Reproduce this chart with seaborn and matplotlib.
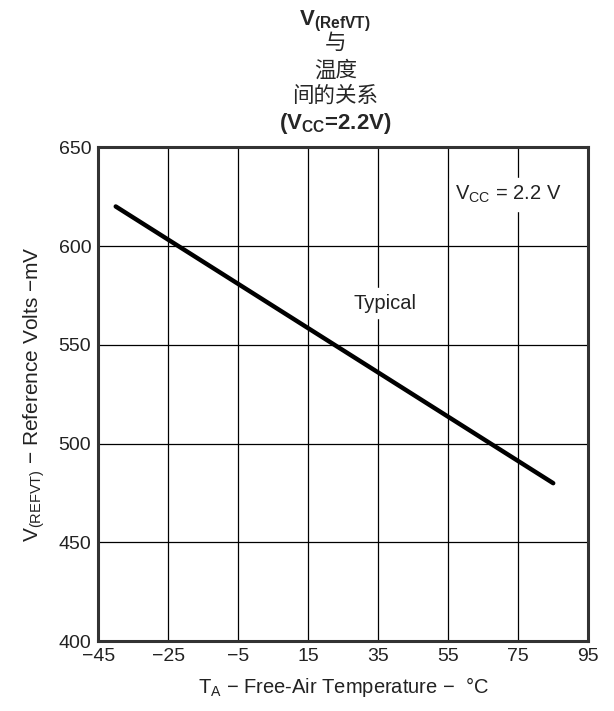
import numpy as np
import pandas as pd
import seaborn as sns
from matplotlib import pyplot as plt

# data
temp_c = [-40, 85]
ref_mv = [620, 480]
x_ticks = [-45, -25, -5, 15, 35, 55, 75, 95]
y_ticks = [400, 450, 500, 550, 600, 650]

df = pd.DataFrame({"Temperature": temp_c, "Reference": ref_mv})

sns.set_style("white")
plt.rcParams['font.family'] = ['Liberation Sans', 'Noto Sans CJK SC', 'DejaVu Sans']
plt.rcParams['mathtext.fontset'] = 'custom'
plt.rcParams['mathtext.rm'] = 'Liberation Sans'
plt.rcParams['mathtext.it'] = 'Liberation Sans'
plt.rcParams['mathtext.bf'] = 'Liberation Sans:bold'

fig, ax = plt.subplots(figsize=(6.14, 7.11), dpi=100)
fig.subplots_adjust(left=0.160, right=0.958, top=0.793, bottom=0.098)

sns.lineplot(data=df, x="Temperature", y="Reference", ax=ax, color="black",
             linewidth=3.2, solid_capstyle="round")

ax.set_xlim(-45, 95)
ax.set_ylim(400, 650)
ax.set_xticks(x_ticks)
ax.set_yticks(y_ticks)
ax.set_xticklabels([str(t).replace("-", "\u2212") for t in x_ticks])
ax.grid(True, color="black", linewidth=0.9)
ax.tick_params(length=0, labelsize=14, colors="#222222", pad=5)
for s in ax.spines.values():
    s.set_color("#333333")
    s.set_linewidth(2.2)

ax.set_xlabel("$\\mathregular{T_A}$ \u2212 Free-Air Temperature \u2212  \u00b0C", fontsize=14.5,
              color="#222222", labelpad=7)
ax.set_ylabel("$\\mathregular{V_{(REFVT)}}$ \u2212 Reference Volts \u2212mV", fontsize=15,
              color="#222222", labelpad=8)

ax.text(57, 626, "$\\mathregular{V_{CC}}$ = 2.2 V", fontsize=14.5, va="center", ha="left",
        color="#222222", backgroundcolor="white")
ax.text(37, 571, "Typical", fontsize=14.5, va="center", ha="center", color="#222222",
        backgroundcolor="white")

# stacked title lines
cx = 0.546
fig.text(cx, 1 - 21 / 711, "$\\mathbf{V_{(RefVT)}}$", fontsize=16, ha="center", va="center")
fig.text(cx, 1 - 43 / 711, "与", fontsize=15.5, ha="center", va="center")
fig.text(cx, 1 - 71 / 711, "温度", fontsize=15.5, ha="center", va="center")
fig.text(cx, 1 - 96 / 711, "间的关系", fontsize=15.5, ha="center", va="center")
fig.text(cx, 1 - 124 / 711, "($\\mathbf{V_{CC}}$=2.2V)", fontsize=16, ha="center",
         va="center", fontweight="bold")

plt.savefig("out.png", dpi=100)
